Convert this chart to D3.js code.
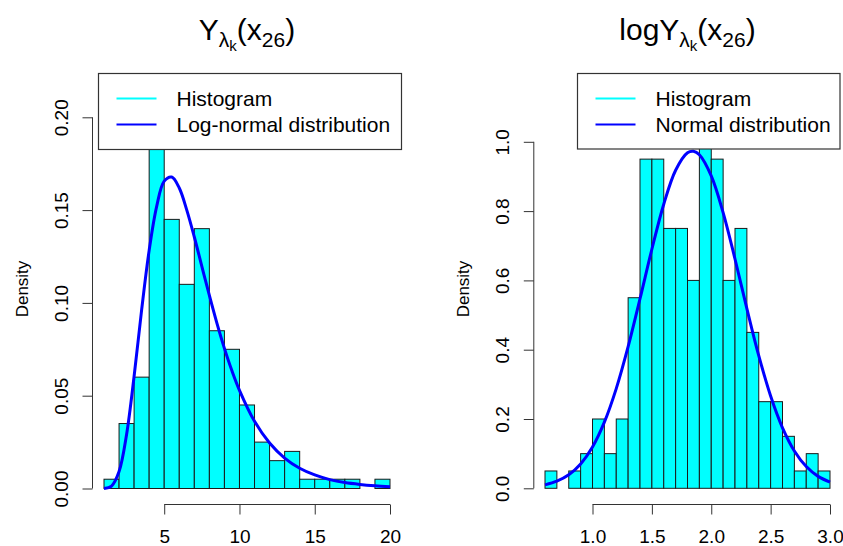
<!DOCTYPE html>
<html>
<head>
<meta charset="utf-8">
<script src="https://cdn.jsdelivr.net/npm/d3@7"></script>
<style>
  html, body { margin: 0; padding: 0; background: #fff; }
  svg { display: block; }
  text { font-family: "Liberation Sans", Arial, Helvetica, sans-serif; fill: #000; }
</style>
</head>
<body>
<svg id="chart" width="843" height="546"></svg>
<script>
// ---------------- DATA ----------------
// Left panel: histogram of Y (density scale), bin breaks and densities
const leftBreaks = [1,2,3,4,5,6,7,8,9,10,11,12,13,14,15,16,17,18,19,20];
const leftDensity = [0.005,0.035,0.060,0.215,0.145,0.110,0.140,0.085,0.075,0.045,0.025,0.015,0.020,0.005,0.005,0.005,0.005,0.000,0.005];
// Log-normal density curve
const leftCurveX = [1,1.5,2,2.5,3,3.5,4,4.5,5,5.5,6,6.5,7,7.5,8,8.5,9,9.5,10,11,12,13,14,15,16,17,18,19,20];
const leftCurveY = [0.00004,0.0013,0.0091,0.0291,0.0605,0.0962,0.1283,0.1520,0.1656,0.1678,0.1619,0.1500,0.1355,0.1197,0.1040,0.0891,0.0755,0.0634,0.0529,0.0362,0.0245,0.0164,0.0109,0.0073,0.0048,0.0032,0.0022,0.0015,0.0010];
const leftXTicks = [5,10,15,20];
const leftYTicks = [0,0.05,0.10,0.15,0.20];
const leftYTickLabels = ["0.00","0.05","0.10","0.15","0.20"];
const leftLegend = ["Histogram","Log-normal distribution"];

// Right panel: histogram of log Y
const rightBreaks = [0.6,0.7,0.8,0.9,1.0,1.1,1.2,1.3,1.4,1.5,1.6,1.7,1.8,1.9,2.0,2.1,2.2,2.3,2.4,2.5,2.6,2.7,2.8,2.9,3.0];
const rightDensity = [0.05,0.00,0.05,0.10,0.20,0.10,0.20,0.55,0.95,0.95,0.75,0.75,0.60,1.15,0.95,0.60,0.75,0.45,0.25,0.25,0.15,0.05,0.10,0.05];
// Normal density curve
const rightCurveX = [0.6,0.7,0.8,0.9,1.0,1.1,1.2,1.3,1.4,1.5,1.6,1.7,1.8,1.85,1.9,2.0,2.1,2.2,2.3,2.4,2.5,2.6,2.7,2.8,2.9,3.0];
const rightCurveY = [0.0100,0.0204,0.0390,0.0703,0.1193,0.1909,0.2877,0.4087,0.5470,0.6899,0.8198,0.9179,0.9684,0.9727,0.9626,0.9017,0.7958,0.6618,0.5185,0.3828,0.2663,0.1746,0.1078,0.0627,0.0344,0.0178];
const rightXTicks = [1.0,1.5,2.0,2.5,3.0];
const rightXTickLabels = ["1.0","1.5","2.0","2.5","3.0"];
const rightYTicks = [0,0.2,0.4,0.6,0.8,1.0];
const rightYTickLabels = ["0.0","0.2","0.4","0.6","0.8","1.0"];
const rightLegend = ["Histogram","Normal distribution"];

const yLabel = "Density";
const colors = { bar: "#00FFFF", curve: "#0000FF" };

// ---------------- DRAW ----------------
const svg = d3.select("#chart");
const FONT = 19;

function panel(cfg) {
  const g = svg.append("g");
  const x = d3.scaleLinear().domain(cfg.xDom).range(cfg.xRange);
  const y = d3.scaleLinear().domain(cfg.yDom).range(cfg.yRange);

  // bars
  const bins = cfg.density.map((d, i) => ({ x0: cfg.breaks[i], x1: cfg.breaks[i + 1], d }));
  g.append("g").selectAll("rect").data(bins).join("rect")
    .attr("x", b => x(b.x0))
    .attr("width", b => x(b.x1) - x(b.x0))
    .attr("y", b => y(b.d))
    .attr("height", b => y(0) - y(b.d))
    .attr("fill", colors.bar)
    .attr("stroke", "#1a1a1a")
    .attr("stroke-width", 1);

  // curve
  const pts = cfg.curveX.map((v, i) => [v, cfg.curveY[i]]);
  g.append("path").datum(pts)
    .attr("d", d3.line().x(p => x(p[0])).y(p => y(p[1])).curve(d3.curveCatmullRom.alpha(0.5)))
    .attr("fill", "none")
    .attr("stroke", colors.curve)
    .attr("stroke-width", 3)
    .attr("stroke-linejoin", "round");

  // x axis
  const xa = g.append("g").attr("transform", `translate(0,${cfg.xAxisY})`)
    .call(d3.axisBottom(x).tickValues(cfg.xTicks).tickFormat((d, i) => cfg.xTickLabels[i]).tickSize(10).tickSizeOuter(0));
  xa.select(".domain").remove();
  xa.append("line").attr("x1", x(cfg.xTicks[0])).attr("x2", x(cfg.xTicks[cfg.xTicks.length - 1]))
    .attr("stroke", "#333");
  xa.selectAll(".tick line").attr("stroke", "#333");
  xa.selectAll(".tick text").attr("y", 38.5).attr("dy", null)
    .attr("font-size", FONT).attr("font-family", '"Liberation Sans", Arial, sans-serif').attr("fill", "#000");

  // y axis
  const ya = g.append("g").attr("transform", `translate(${cfg.yAxisX},0)`)
    .call(d3.axisLeft(y).tickValues(cfg.yTicks).tickFormat((d, i) => cfg.yTickLabels[i]).tickSize(10).tickSizeOuter(0));
  ya.select(".domain").remove();
  ya.append("line").attr("y1", y(cfg.yTicks[0])).attr("y2", y(cfg.yTicks[cfg.yTicks.length - 1]))
    .attr("stroke", "#333");
  ya.selectAll(".tick line").attr("stroke", "#333");
  ya.selectAll(".tick text")
    .attr("x", null).attr("dy", null)
    .attr("text-anchor", "middle")
    .attr("transform", "translate(-24.5,0) rotate(-90)")
    .attr("font-size", FONT).attr("font-family", '"Liberation Sans", Arial, sans-serif').attr("fill", "#000");

  // y label
  const midY = (cfg.plotTop + cfg.xAxisY) / 2;
  g.append("text")
    .attr("transform", `translate(${cfg.yAxisX - 65},${midY}) rotate(-90)`)
    .attr("text-anchor", "middle")
    .attr("font-size", 17)
    .text(yLabel);

  // legend
  const L = cfg.legend;
  g.append("rect").attr("x", L.x).attr("y", L.y).attr("width", L.w).attr("height", L.h)
    .attr("fill", "#fff").attr("stroke", "#333").attr("stroke-width", 1.2);
  const lcol = [colors.bar, colors.curve];
  cfg.legendText.forEach((t, i) => {
    const ly = L.y + 25 + i * 26;
    g.append("line").attr("x1", L.x + 18).attr("x2", L.x + 58).attr("y1", ly).attr("y2", ly)
      .attr("stroke", lcol[i]).attr("stroke-width", 2);
    g.append("text").attr("x", L.x + 78).attr("y", ly + 7.5).attr("font-size", 21).text(t);
  });

  // title with sub-scripts
  const tt = g.append("text").attr("x", cfg.titleX).attr("y", 40).attr("text-anchor", "middle").attr("font-size", 30);
  if (cfg.titlePrefix) tt.append("tspan").text(cfg.titlePrefix);
  tt.append("tspan").text("Y");
  tt.append("tspan").attr("font-size", 21).attr("dy", 7).text("λ");
  tt.append("tspan").attr("font-size", 15).attr("dy", 4).text("k");
  tt.append("tspan").attr("dy", -11).text("(x");
  tt.append("tspan").attr("font-size", 21).attr("dy", 7).text("26");
  tt.append("tspan").attr("dy", -7).text(")");
}

panel({
  breaks: leftBreaks, density: leftDensity, curveX: leftCurveX, curveY: leftCurveY,
  xDom: [1, 20], xRange: [104, 390], yDom: [0, 0.2], yRange: [488.5, 117.3],
  xTicks: leftXTicks, xTickLabels: leftXTicks.map(String), yTicks: leftYTicks, yTickLabels: leftYTickLabels,
  xAxisY: 504.5, yAxisX: 92.5, plotTop: 73.5,
  legend: { x: 98.5, y: 73.5, w: 303, h: 76 }, legendText: leftLegend,
  titleX: 247, titlePrefix: ""
});

panel({
  breaks: rightBreaks, density: rightDensity, curveX: rightCurveX, curveY: rightCurveY,
  xDom: [0.6, 3.0], xRange: [545, 830], yDom: [0, 1], yRange: [488.3, 141.8],
  xTicks: rightXTicks, xTickLabels: rightXTickLabels, yTicks: rightYTicks, yTickLabels: rightYTickLabels,
  xAxisY: 504.5, yAxisX: 533.8, plotTop: 73.5,
  legend: { x: 577.5, y: 73.5, w: 262.5, h: 75.5 }, legendText: rightLegend,
  titleX: 687.5, titlePrefix: "log"
});
</script>
</body>
</html>
